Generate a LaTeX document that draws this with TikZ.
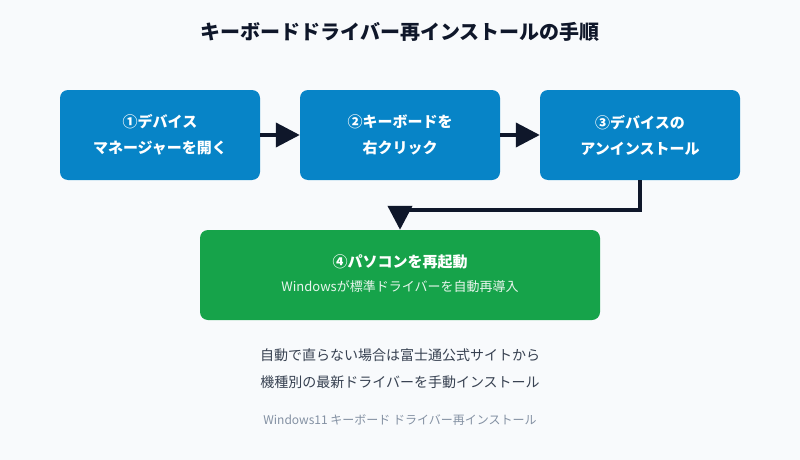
\documentclass[tikz,border=0pt]{standalone}
\usepackage{fontspec}
\setmainfont{Noto Sans CJK JP}
\usetikzlibrary{arrows.meta}
\definecolor{bg}{HTML}{F8FAFC}
\definecolor{bluebox}{HTML}{0784C7}
\definecolor{greenbox}{HTML}{16A34A}
\definecolor{dark}{HTML}{0F172A}
\definecolor{txt}{HTML}{374151}
\definecolor{foot}{HTML}{8491A3}
\begin{document}
\begin{tikzpicture}[x=1pt,y=-1pt,
  box/.style={rounded corners=8pt,minimum width=200pt,minimum height=90pt,text=white,align=center,font=\fontsize{15}{26}\selectfont\bfseries,inner sep=0pt},
  conn/.style={draw=dark,line width=4pt,-{Triangle[length=24pt,width=24pt]}}]
\fill[bg] (0,0) rectangle (800,460);
\useasboundingbox (0,0) rectangle (800,460);
\node (title) at (400,32) {\fontsize{20}{24}\selectfont\bfseries\color{dark}キーボードドライバー再インストールの手順};
\node[box,fill=bluebox] (b1) at (160,135) {①デバイス\\マネージャーを開く};
\node[box,fill=bluebox] (b2) at (400,135) {②キーボードを\\右クリック};
\node[box,fill=bluebox] (b3) at (640,135) {③デバイスの\\アンインストール};
\node[box,fill=greenbox,minimum width=400pt] (b4) at (400,275) {};
\node[text=white,font=\fontsize{15}{18}\selectfont\bfseries] (t4a) at (400,262) {④パソコンを再起動};
\node[text=white!90!greenbox,font=\fontsize{13}{16}\selectfont] (t4b) at (400,287) {Windowsが標準ドライバーを自動再導入};
\draw[conn] (b1.east) -- (b2.west);
\draw[conn] (b2.east) -- (b3.west);
\coordinate (k1) at (640,210);
\coordinate (k2) at (400,210);
\draw[conn] (b3.south) -- (k1) -- (k2) -- (b4.north);
\node[text=txt,font=\fontsize{14}{17}\selectfont] (n1) at (400,355) {自動で直らない場合は富士通公式サイトから};
\node[text=txt,font=\fontsize{14}{17}\selectfont] (n2) at (400,382) {機種別の最新ドライバーを手動インストール};
\node[text=foot,font=\fontsize{12}{14}\selectfont] (n3) at (400,420) {Windows11 キーボード ドライバー再インストール};
\end{tikzpicture}
\end{document}
